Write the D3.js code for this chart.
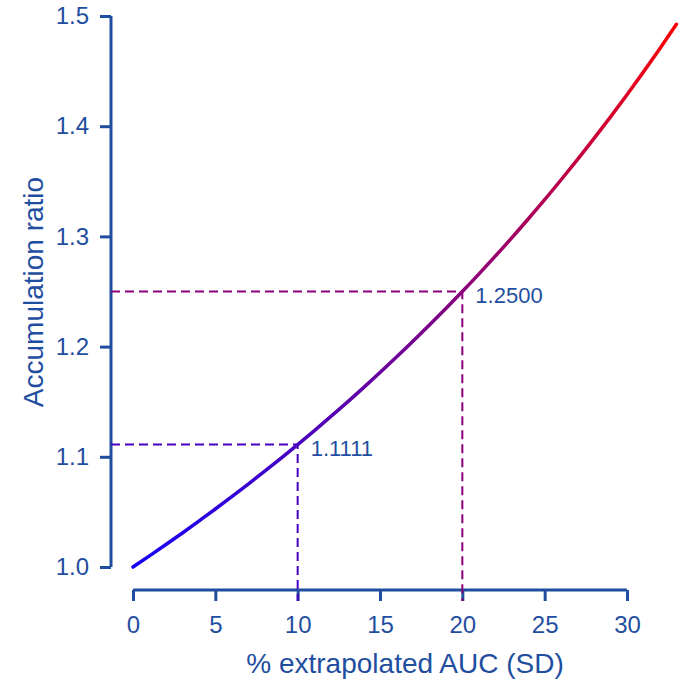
<!DOCTYPE html>
<html>
<head>
<meta charset="utf-8">
<script src="https://cdn.jsdelivr.net/npm/d3@7"></script>
<style>
  body { margin: 0; background: #fff; }
  text { font-family: "Liberation Sans", Arial, sans-serif; fill: #1f4ea0; }
</style>
</head>
<body>
<div id="chart"></div>
<script>
// accumulation ratio
const pctExtrap = [0, 1, 2, 3, 4, 5, 6, 7, 8, 9, 10, 11, 12, 13, 14, 15, 16,
  17, 18, 19, 20, 21, 22, 23, 24, 25, 26, 27, 28, 29, 30, 31, 32, 33];
const accRatio = [1.0000, 1.0101, 1.0204, 1.0309, 1.0417, 1.0526, 1.0638, 1.0753,
  1.0870, 1.0989, 1.1111, 1.1236, 1.1364, 1.1494, 1.1628, 1.1765, 1.1905, 1.2048,
  1.2195, 1.2346, 1.2500, 1.2658, 1.2821, 1.2987, 1.3158, 1.3333, 1.3514, 1.3699,
  1.3889, 1.4085, 1.4286, 1.4493, 1.4706, 1.4925];
const markX = [10, 20];
const markY = [1.1111, 1.2500];
const markLabels = ['1.1111', '1.2500'];
const xTicks = [0, 5, 10, 15, 20, 25, 30];
const yTicks = [1.0, 1.1, 1.2, 1.3, 1.4, 1.5];

const width = 682, height = 681;
const axisColor = '#1f4ea0';

const svg = d3.select('#chart').append('svg')
  .attr('width', width)
  .attr('height', height);

const x = d3.scaleLinear().domain([0, 30]).range([133, 627]);
const y = d3.scaleLinear().domain([1, 1.5]).range([567, 16]);

// colour follows the ratio: blue at 1.0, red at 1.5
const colorAt = d3.scaleLinear()
  .domain([1, 1.5])
  .range(['#1500f5', '#ff0000']);

const grad = svg.append('defs').append('linearGradient')
  .attr('id', 'curveGrad')
  .attr('gradientUnits', 'userSpaceOnUse')
  .attr('x1', 0).attr('x2', 0)
  .attr('y1', y(1)).attr('y2', y(1.5));
grad.append('stop').attr('offset', '0%').attr('stop-color', colorAt(1));
grad.append('stop').attr('offset', '100%').attr('stop-color', colorAt(1.5));

// axes
const yAxis = svg.append('g')
  .attr('transform', 'translate(111,0)')
  .call(d3.axisLeft(y).tickValues(yTicks).tickFormat(d3.format('.1f')).tickSize(11).tickPadding(11));
const xAxis = svg.append('g')
  .attr('transform', 'translate(0,590)')
  .call(d3.axisBottom(x).tickValues(xTicks).tickSize(11).tickPadding(15));

[yAxis, xAxis].forEach(g => {
  g.select('.domain').attr('stroke', axisColor).attr('stroke-width', 3);
  g.selectAll('.tick line').attr('stroke', axisColor).attr('stroke-width', 3);
  g.selectAll('.tick text')
    .attr('font-size', 24)
    .attr('font-family', '"Liberation Sans", Arial, sans-serif')
    .attr('fill', axisColor);
});
yAxis.select('.domain').attr('d', `M0,${y(1.5)}V${y(1)}`);
xAxis.select('.domain').attr('d', `M${x(0)},0H${x(30)}`);

// dashed reference lines
markX.forEach((mx, i) => {
  const c = colorAt(markY[i]);
  svg.append('path')
    .attr('d', `M111,${y(markY[i])}H${x(mx)}V601`)
    .attr('fill', 'none')
    .attr('stroke', c)
    .attr('stroke-width', 2)
    .attr('stroke-dasharray', '9,5');
  svg.append('text')
    .attr('x', x(mx) + 13)
    .attr('y', y(markY[i]) + 11)
    .attr('font-size', 22)
    .text(markLabels[i]);
});

// curve
const line = d3.line()
  .x((d, i) => x(pctExtrap[i]))
  .y(d => y(d))
  .curve(d3.curveMonotoneX);
svg.append('path')
  .datum(accRatio)
  .attr('d', line)
  .attr('fill', 'none')
  .attr('stroke', 'url(#curveGrad)')
  .attr('stroke-width', 3.5)
  .attr('stroke-linecap', 'round');

// titles
svg.append('text')
  .attr('x', 405).attr('y', 673)
  .attr('text-anchor', 'middle')
  .attr('font-size', 28)
  .text('% extrapolated AUC (SD)');
svg.append('text')
  .attr('transform', 'translate(43,292) rotate(-90)')
  .attr('text-anchor', 'middle')
  .attr('font-size', 28)
  .text('Accumulation ratio');
</script>
</body>
</html>
